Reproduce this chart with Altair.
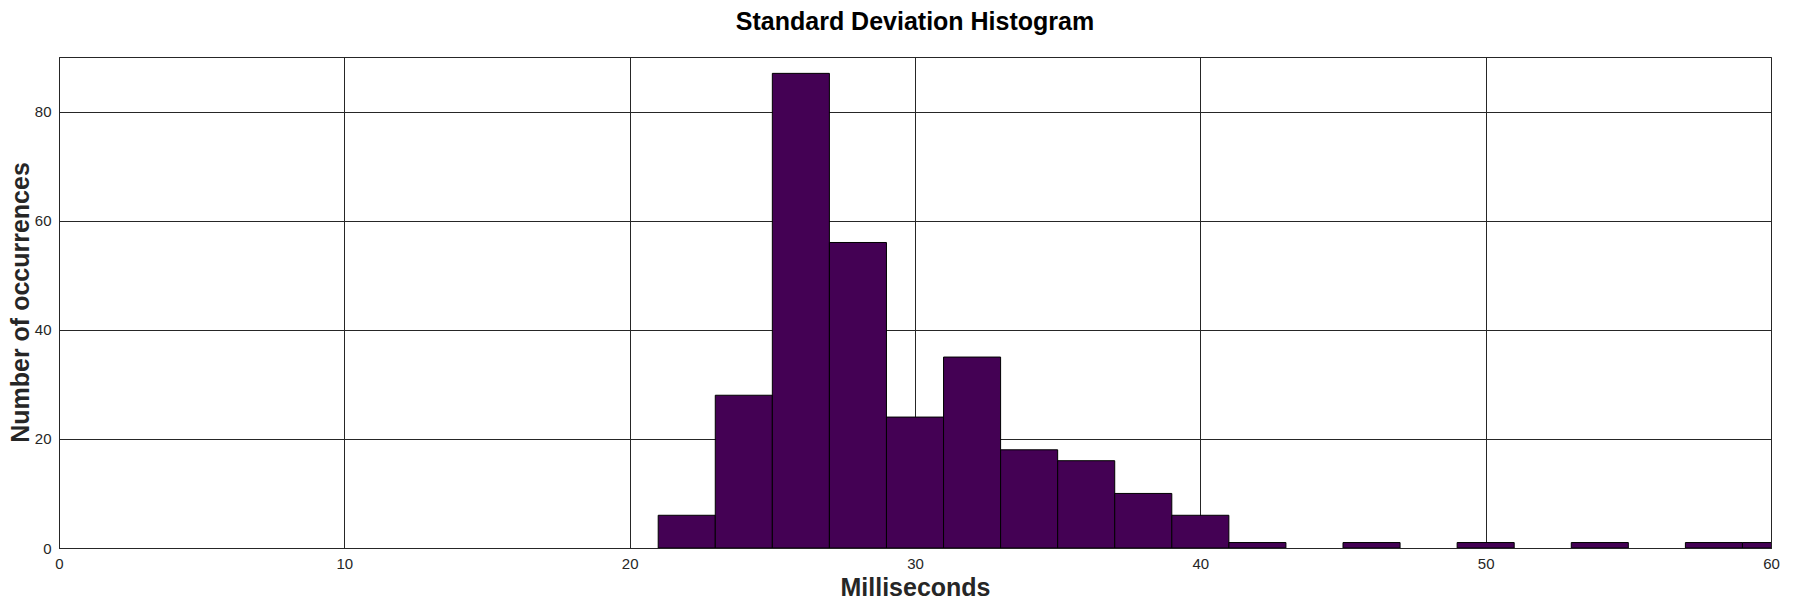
import altair as alt
import pandas as pd

bin_start = [21, 23, 25, 27, 29, 31, 33, 35, 37, 39, 41, 45, 49, 53, 57, 59]
bin_end = [23, 25, 27, 29, 31, 33, 35, 37, 39, 41, 43, 47, 51, 55, 59, 61]
counts = [6, 28, 87, 56, 24, 35, 18, 16, 10, 6, 1, 1, 1, 1, 1, 1]

x_ticks = [0, 10, 20, 30, 40, 50, 60]
y_ticks = [0, 20, 40, 60, 80]

df = pd.DataFrame({"start": bin_start, "end": bin_end, "count": counts})

FONT = "Liberation Sans"
GRID = "#262626"

chart = (
    alt.Chart(df)
    .mark_rect(color="#440154", stroke="black", strokeWidth=1, clip=True)
    .encode(
        x=alt.X(
            "start:Q",
            scale=alt.Scale(domain=[0, 60], nice=False, zero=False),
            axis=alt.Axis(
                title="Milliseconds",
                values=x_ticks,
                format="d",
                labelFlush=False,
                titleY=47,
                titleBaseline="alphabetic",
            ),
        ),
        x2="end:Q",
        y=alt.Y(
            "count:Q",
            scale=alt.Scale(domain=[0, 90], nice=False),
            axis=alt.Axis(
                title="Number of occurrences",
                values=y_ticks,
                format="d",
                labelFlush=False,
                titleX=-31,
                titleY=245,
                titleBaseline="alphabetic",
                titleAngle=-90,
                titleAlign="center",
            ),
        ),
        y2=alt.datum(0),
    )
    .properties(
        width=1712,
        height=491,
        title=alt.TitleParams(
            "Standard Deviation Histogram",
            font=FONT,
            fontSize=25,
            fontWeight="bold",
            color="black",
            anchor="middle",
            frame="group",
            baseline="alphabetic",
            offset=2,
        ),
        autosize=alt.AutoSizeParams(type="none"),
        padding={"left": 51, "top": 49, "right": 14, "bottom": 52},
    )
    .configure_view(stroke=GRID, strokeWidth=1)
    .configure_axis(
        grid=True,
        gridColor=GRID,
        gridOpacity=1,
        gridWidth=1,
        domainColor=GRID,
        domainWidth=1,
        ticks=False,
        labelFont=FONT,
        labelFontSize=15,
        labelColor="#262626",
        labelPadding=8,
        titleFont=FONT,
        titleFontSize=25,
        titleFontWeight="bold",
        titleColor="#262626",
    )
)

chart.save("out.html", embed_options={"renderer": "svg", "actions": False})
